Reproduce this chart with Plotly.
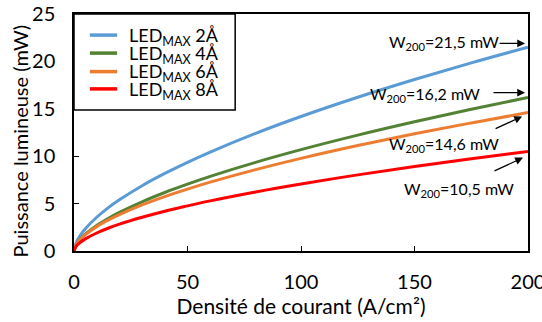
import plotly.graph_objects as go

# densité de courant (A/cm²)
j = [0, 1, 2.5, 5, 10, 15, 20, 30, 40, 50, 60, 80, 100, 125, 150, 175, 200]

# puissance lumineuse (mW)
p_2a = [0, 0.89, 1.55, 2.35, 3.56, 4.55, 5.40, 6.89, 8.18, 9.36, 10.44, 12.41, 14.19, 16.22, 18.09, 19.85, 21.5]
p_4a = [0, 0.67, 1.17, 1.77, 2.68, 3.42, 4.07, 5.19, 6.17, 7.05, 7.87, 9.35, 10.69, 12.22, 13.63, 14.95, 16.2]
p_6a = [0, 0.68, 1.15, 1.72, 2.57, 3.25, 3.84, 4.86, 5.74, 6.53, 7.26, 8.58, 9.77, 11.12, 12.36, 13.51, 14.6]
p_8a = [0, 0.51, 0.86, 1.28, 1.90, 2.40, 2.83, 3.56, 4.20, 4.76, 5.29, 6.23, 7.07, 8.03, 8.91, 9.73, 10.5]

names = ["LED<sub>MAX</sub> 2Å", "LED<sub>MAX</sub> 4Å", "LED<sub>MAX</sub> 6Å", "LED<sub>MAX</sub> 8Å"]
colors = ["#5B9BD5", "#548235", "#ED7D31", "#FF0000"]
w200 = ["21,5", "16,2", "14,6", "10,5"]

font = "Lato"

fig = go.Figure()
for name, ys, c in zip(names, [p_2a, p_4a, p_6a, p_8a], colors):
    fig.add_trace(go.Scatter(x=j, y=ys, mode="lines", name=name, showlegend=False,
                             line=dict(color=c, width=3, shape="spline")))

# étiquettes W200 et flèches
labels = [(163.2, 22.0), (154.6, 16.5), (162.8, 11.2), (169.4, 6.46)]
arrows = [(198.7, 21.9, -27, 0), (198.7, 16.7, -33, 0), (197.4, 14.2, -28, 13), (197.8, 9.85, -30, 14)]
ann = []
for (lx, ly), v in zip(labels, w200):
    ann.append(dict(x=lx, y=ly, text=f"W<sub>200</sub>={v} mW", showarrow=False,
                    font=dict(size=16, color="black", family=font)))
for ax_, ay_, dx, dy in arrows:
    ann.append(dict(x=ax_, y=ay_, text="", showarrow=True, ax=dx, ay=dy,
                    arrowhead=2, arrowsize=1.2, arrowwidth=1.3, arrowcolor="black"))

# légende compacte (comme dans Excel) : cadre, traits et textes
shapes = [dict(type="rect", xref="paper", yref="paper", x0=0, x1=0.355, y0=0.595, y1=1,
               line=dict(color="black", width=1.5), fillcolor="white", layer="above")]
leg_y = [0.911, 0.835, 0.757, 0.684]
for ly, name, c in zip(leg_y, names, colors):
    shapes.append(dict(type="line", xref="paper", yref="paper", x0=0.035, x1=0.095, y0=ly, y1=ly,
                       line=dict(color=c, width=3.5), layer="above"))
    ann.append(dict(x=0.117, y=ly - 0.005, xref="paper", yref="paper", text=name, showarrow=False,
                    xanchor="left", yanchor="middle", font=dict(size=18, family=font, color="black")))

# titre de l'axe y
ann.append(dict(x=-0.118, y=0.464, xref="paper", yref="paper", text="Puissance lumineuse (mW)",
                textangle=-90, showarrow=False, xanchor="center", yanchor="middle",
                font=dict(size=20, family=font, color="black")))

fig.update_layout(
    width=542, height=322,
    margin=dict(l=74, r=14, t=14, b=71),
    paper_bgcolor="white", plot_bgcolor="white",
    font=dict(family=font, color="black", size=16),
    annotations=ann,
    shapes=shapes,
)
fig.update_xaxes(range=[0, 200], tickvals=[0, 50, 100, 150, 200], automargin=False,
                 ticklabeloverflow="allow",
                 showline=True, linecolor="black", linewidth=1.5, mirror=True,
                 ticks="inside", ticklen=5, tickcolor="black", showgrid=False, zeroline=False,
                 title=dict(text="Densité de courant (A/cm²)", font=dict(size=21), standoff=8),
                 tickfont=dict(size=20), ticklabelstandoff=12)
fig.update_yaxes(range=[0, 25], tickvals=[0, 5, 10, 15, 20, 25], automargin=False,
                 showline=True, linecolor="black", linewidth=1.5, mirror=True,
                 ticks="inside", ticklen=5, tickcolor="black", showgrid=False, zeroline=False,
                 tickfont=dict(size=20), ticklabelstandoff=13)

# la page a une marge de 8 px par défaut : on la retire
fig.write_html("out.html", config={"displayModeBar": False},
               post_script="document.body.style.margin='0';")
